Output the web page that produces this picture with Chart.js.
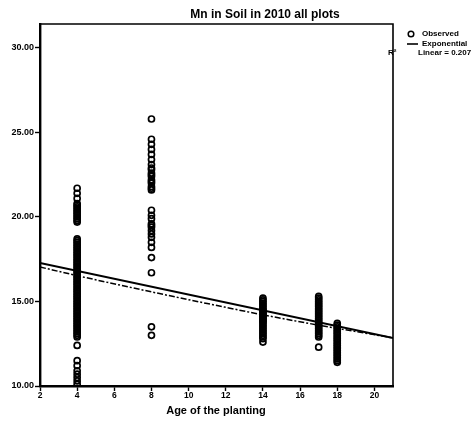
<!DOCTYPE html>
<html>
<head>
<meta charset="utf-8">
<script src="https://cdn.jsdelivr.net/npm/chart.js@4/dist/chart.umd.min.js"></script>
<style>
  html, body { margin: 0; padding: 0; background: #fff; }
  #wrap { width: 472px; height: 431px; position: relative; }
</style>
</head>
<body>
<div id="wrap"><canvas id="c"></canvas></div>
<script>
// Mn concentration in soil (2010, all plots) against age of the planting
const chartTitle = 'Mn in Soil in 2010 all plots';
const xAxisTitle = 'Age of the planting';

// Observed Mn values, one list per planting age (years)
const mnAge4 = [21.7, 21.4, 21.1, 20.8, 20.7, 20.6, 20.5, 20.4, 20.3, 20.2, 20.1, 20.0, 19.9, 19.8, 19.7,
  18.7, 18.6, 18.5, 18.4, 18.3, 18.2, 18.1, 18.0, 17.9, 17.8, 17.7, 17.6, 17.5, 17.4, 17.3, 17.2, 17.1, 17.0, 16.9,
  16.8, 16.7, 16.6, 16.5, 16.4, 16.3, 16.2, 16.1, 16.0, 15.9, 15.8, 15.7, 15.6,
  15.5, 15.4, 15.3, 15.2, 15.1, 15.0, 14.9, 14.8, 14.7, 14.6, 14.5, 14.4, 14.3, 14.2, 14.1, 14.0,
  13.9, 13.8, 13.7, 13.6, 13.5, 13.4, 13.3, 13.2, 13.1, 13.0, 12.9, 12.4, 11.5, 11.2, 10.9, 10.7, 10.5, 10.3, 10.1];
const mnAge8 = [25.8, 24.6, 24.3, 24.0, 23.7, 23.4, 23.1, 22.9, 22.8, 22.6, 22.5, 22.4,
  22.2, 22.1, 22.0, 21.8, 21.7, 21.6, 20.4, 20.1, 19.9, 19.6, 19.5, 19.4, 19.2, 19.0, 18.8,
  18.5, 18.2, 17.6, 16.7, 13.5, 13.0];
const mnAge14 = [15.2, 15.1, 15.0, 14.9, 14.8, 14.7, 14.6, 14.5, 14.45, 14.4,
  14.3, 14.25, 14.2, 14.1, 14.05, 14.0, 13.9, 13.85, 13.8, 13.7, 13.6, 13.5,
  13.4, 13.3, 13.2, 13.1, 13.0, 12.9, 12.8, 12.6];
const mnAge17 = [15.3, 15.2, 15.1, 15.0, 14.9, 14.8, 14.7, 14.6, 14.5, 14.4,
  14.3, 14.2, 14.1, 14.0, 13.9, 13.8, 13.7, 13.6, 13.5, 13.4, 13.3, 13.2,
  13.1, 13.0, 12.9, 12.3];
const mnAge18 = [13.7, 13.6, 13.5, 13.4, 13.3, 13.2, 13.1, 13.0, 12.9, 12.8,
  12.7, 12.6, 12.5, 12.4, 12.3, 12.2, 12.1, 12.0, 11.9, 11.8, 11.7, 11.6, 11.5, 11.4];

const plantingAges = [4, 8, 14, 17, 18];
const mnByAge = [mnAge4, mnAge8, mnAge14, mnAge17, mnAge18];

// Fitted curves
const linearAges = [2, 21];
const linearMn = [17.28, 12.84];
const linearR2Label = 'Linear = 0.207';
const expAges = [2, 4, 8, 11, 14, 17, 18, 21];
const expMn = [17.04, 16.53, 15.57, 14.88, 14.21, 13.60, 13.41, 12.85];

// Axis ticks
const xTickValues = [2, 4, 6, 8, 10, 12, 14, 16, 18, 20];
const yTickValues = [10, 15, 20, 25, 30];

const observedPoints = [];
plantingAges.forEach((age, i) => {
  mnByAge[i].forEach(v => observedPoints.push({ x: age, y: v }));
});
const linearPoints = linearAges.map((a, i) => ({ x: a, y: linearMn[i] }));
const expPoints = expAges.map((a, i) => ({ x: a, y: expMn[i] }));

const FONT = 'Liberation Sans, Arial, sans-serif';

const decorations = {
  id: 'decorations',
  afterDatasetsDraw(chart) {
    const { ctx, chartArea: a } = chart;
    ctx.save();
    // plot frame (top and right edges)
    ctx.strokeStyle = '#000';
    ctx.lineWidth = 1.6;
    ctx.beginPath();
    ctx.moveTo(a.left, a.top);
    ctx.lineTo(a.right, a.top);
    ctx.lineTo(a.right, a.bottom);
    ctx.stroke();

    ctx.fillStyle = '#000';
    // title
    ctx.font = 'bold 12px ' + FONT;
    ctx.textAlign = 'center';
    ctx.textBaseline = 'middle';
    ctx.fillText(chartTitle, 265, 15);

    // x axis title
    ctx.font = 'bold 11px ' + FONT;
    ctx.fillText(xAxisTitle, 216, 411);

    // legend
    ctx.font = 'bold 8px ' + FONT;
    ctx.textAlign = 'left';
    ctx.lineWidth = 1.5;
    ctx.beginPath();
    ctx.arc(411, 34, 2.8, 0, Math.PI * 2);
    ctx.stroke();
    ctx.fillText('Observed', 422, 34);
    ctx.lineWidth = 1.6;
    ctx.beginPath();
    ctx.moveTo(407, 44);
    ctx.lineTo(418, 44);
    ctx.stroke();
    ctx.fillText('Exponential', 422, 44);
    ctx.fillText('R²', 388, 53);
    ctx.fillText(linearR2Label, 418, 53);
    ctx.restore();
  }
};

new Chart(document.getElementById('c'), {
  type: 'scatter',
  data: {
    datasets: [
      {
        label: 'Observed',
        data: observedPoints,
        pointStyle: 'circle',
        pointRadius: 3,
        pointBorderWidth: 1.7,
        pointBorderColor: '#000',
        pointBackgroundColor: 'rgba(0,0,0,0)',
        showLine: false
      },
      {
        label: 'Linear',
        data: linearPoints,
        showLine: true,
        borderColor: '#000',
        borderWidth: 2.2,
        pointRadius: 0
      },
      {
        label: 'Exponential',
        data: expPoints,
        showLine: true,
        borderColor: '#000',
        borderWidth: 1.5,
        borderDash: [6, 2, 2, 2],
        cubicInterpolationMode: 'monotone',
        pointRadius: 0
      }
    ]
  },
  options: {
    responsive: true,
    maintainAspectRatio: false,
    animation: false,
    layout: { padding: { top: 24, right: 79, left: 0, bottom: 0 } },
    plugins: {
      legend: { display: false },
      tooltip: { enabled: false },
      title: { display: false }
    },
    scales: {
      x: {
        type: 'linear',
        min: 2,
        max: 21,
        afterBuildTicks: s => { s.ticks = xTickValues.map(v => ({ value: v })); },
        afterFit: s => { s.height = 45; },
        grid: { drawOnChartArea: false, drawTicks: true, tickLength: 5, color: '#000', tickWidth: 1.4 },
        border: { color: '#000', width: 2.4 },
        ticks: { color: '#000', font: { family: FONT, size: 8.5, weight: 'bold' }, padding: 0, maxRotation: 0,
          callback: v => String(v) }
      },
      y: {
        type: 'linear',
        min: 10,
        max: 31.42,
        afterBuildTicks: s => { s.ticks = yTickValues.map(v => ({ value: v })); },
        afterFit: s => { s.width = 40; },
        grid: { drawOnChartArea: false, drawTicks: true, tickLength: 5, color: '#000', tickWidth: 1.4 },
        border: { color: '#000', width: 2.4 },
        ticks: { color: '#000', font: { family: FONT, size: 9, weight: 'bold' }, padding: 1,
          callback: v => Number(v).toFixed(2) }
      }
    }
  },
  plugins: [decorations]
});
</script>
</body>
</html>
